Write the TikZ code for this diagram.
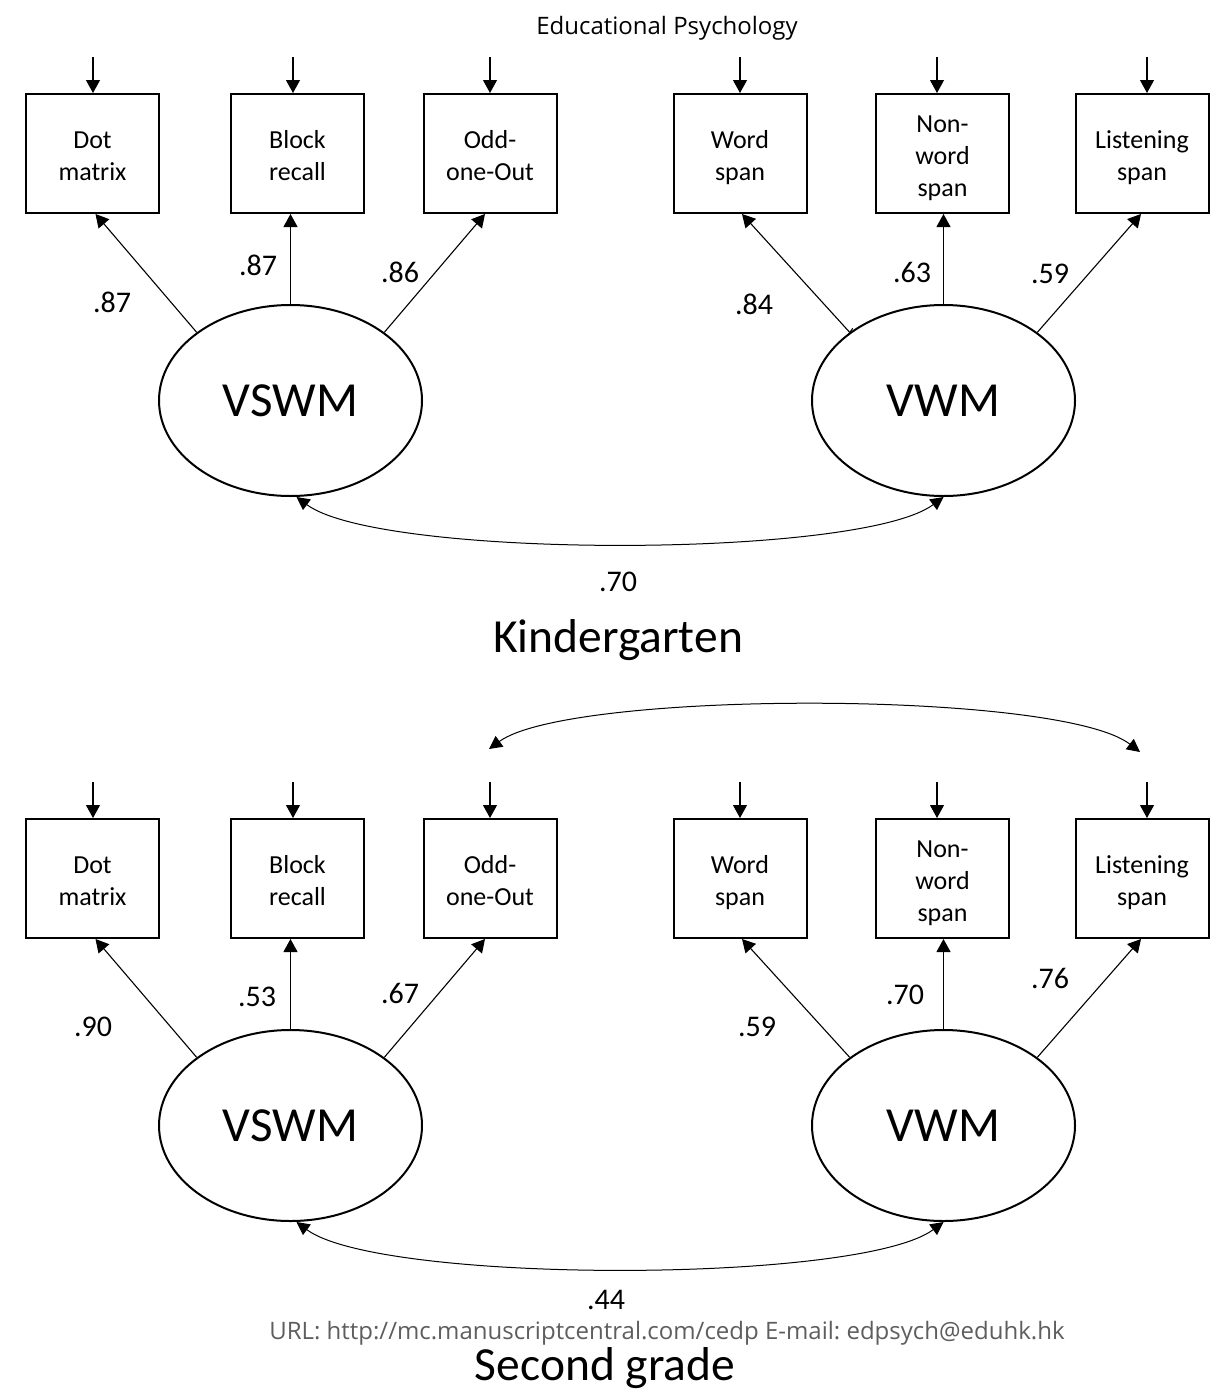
\documentclass[tikz,border=0pt]{standalone}
\usepackage{fontspec}
\setmainfont{Carlito}
\newfontfamily\hdrfont{Open Sans}
\usetikzlibrary{shapes.geometric,arrows.meta,calc}
\definecolor{urlgrey}{HTML}{5E5E5E}
\frenchspacing
% struts that give every indicator label the same line positions
\newcommand\bxtop{\rule{0pt}{29pt}}
\newcommand\bxbot{\rule[-7pt]{0pt}{7pt}}
\begin{document}
\begin{tikzpicture}[x=1pt,y=-1pt,
  box/.style={draw,line width=2pt,minimum width=133pt,minimum height=119pt,
    inner sep=0pt,align=center,font=\fontsize{26}{32}\selectfont},
  latent/.style={ellipse,draw,line width=2pt,minimum width=263pt,
    minimum height=191pt,inner sep=0pt,font=\fontsize{49}{59}\selectfont},
  tip/.style={-{Triangle[length=13pt,width=14pt]},line width=1.1pt},
  cov/.style={{Triangle[length=13pt,width=13pt]}-{Triangle[length=13pt,width=13pt]},
    line width=1pt},
  coef/.style={font=\fontsize{30}{36}\selectfont,inner sep=0pt},
  grp/.style={font=\fontsize{47.5}{56}\selectfont,inner sep=0pt},
  hdr/.style={font=\hdrfont\fontsize{24}{29}\selectfont,inner sep=0pt}]

\useasboundingbox[fill=white] (0,0) rectangle (1217,1397);

% running head and footer
\node[hdr] (head) at (667,28) {Educational Psychology};
\node[hdr,text=urlgrey] (url) at (667,1333)
  {URL: http://mc.manuscriptcentral.com/cedp E-mail: edpsych@eduhk.hk};

% the two measurement models
\foreach \p/\dy in {a/0,b/725}{
  \node[box] (\p dot) at (92.5,153.5+\dy) {\bxtop Dot\\matrix\bxbot};
  \node[box] (\p blk) at (297.5,153.5+\dy) {\bxtop Block\\recall\bxbot};
  \node[box] (\p odd) at (490,153.5+\dy) {\bxtop Odd-\\one-Out\bxbot};
  \node[box] (\p wrd) at (740,153.5+\dy) {\bxtop Word\\span\bxbot};
  \node[box] (\p non) at (942.5,153.5+\dy) {\bxtop Non-\\word\\span\bxbot};
  \node[box] (\p lst) at (1142,153.5+\dy) {\bxtop Listening\\span\bxbot};
  \node[latent] (\p vs) at (290.5,400.5+\dy) {VSWM};
  \node[latent] (\p vw) at (943.5,400.5+\dy) {VWM};
  % residual arrows
  \foreach \n/\x in {dot/93,blk/293,odd/490,wrd/740,non/937,lst/1147}{
    \coordinate (\p e\n) at (\x,57+\dy);
    \draw[tip] (\p e\n) -- (\p e\n |- \p\n.north);
  }
  % factor loadings
  \draw[tip] (\p vs.144) -- ([xshift=3pt]\p dot.south);
  \draw[tip] (\p vs.north) -- (\p vs.north |- \p blk.south);
  \draw[tip] (\p vs.36) -- ([xshift=-5pt]\p odd.south);
  \draw[tip] (\p vw.144) -- ([xshift=2pt]\p wrd.south);
  \draw[tip] (\p vw.north) -- (\p vw.north |- \p non.south);
  \draw[tip] (\p vw.36) -- ([xshift=-1pt]\p lst.south);
  % factor correlation
  \draw[cov] ([xshift=6pt]\p vs.south) .. controls (380,559+\dy) and (860,559+\dy) .. (\p vw.south);
}

% small stroke at the start of the Word span loading
\draw[line width=1pt] ([shift={(-2pt,-3pt)}]avw.144) -- ([shift={(3pt,4pt)}]avw.144);

% residual covariance, second grade
\coordinate (covL) at (489,749);
\coordinate (covR) at (1140,752);
\draw[cov] (covL) .. controls (570,690) and (1060,690) .. (covR);

% coefficients, kindergarten
\node[coef] (k1) at (112,302) {.87};
\node[coef] (k2) at (258,265) {.87};
\node[coef] (k3) at (400,272) {.86};
\node[coef] (k4) at (754,304) {.84};
\node[coef] (k5) at (912,272) {.63};
\node[coef] (k6) at (1050,274) {.59};
\node[coef] (kr) at (618,582) {.70};
\node[grp] (kt) at (618,640) {Kindergarten};

% coefficients, second grade
\node[coef] (s1) at (93,1027) {.90};
\node[coef] (s2) at (257,997) {.53};
\node[coef] (s3) at (400,993) {.67};
\node[coef] (s4) at (757,1027) {.59};
\node[coef] (s5) at (905,995) {.70};
\node[coef] (s6) at (1050,978) {.76};
\node[coef] (sr) at (606,1300) {.44};
\node[grp] (st) at (605,1368) {Second grade};
\end{tikzpicture}
\end{document}
